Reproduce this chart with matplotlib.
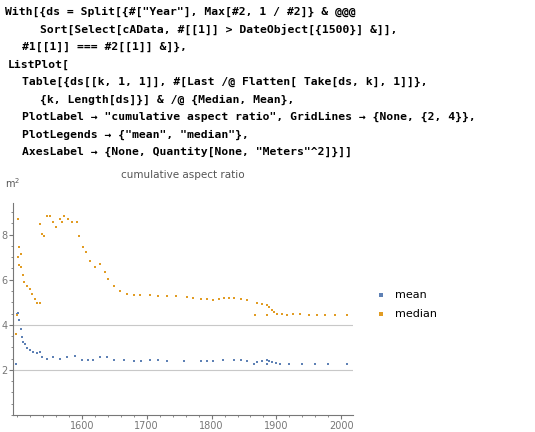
import matplotlib.pyplot as plt
from matplotlib.ticker import MultipleLocator

code_lines = [
    (5, "With[{ds = Split[{#[\"Year\"], Max[#2, 1 / #2]} & @@@"),
    (40, "Sort[Select[cAData, #[[1]] > DateObject[{1500}] &]],"),
    (22, "#1[[1]] === #2[[1]] &]},"),
    (8, "ListPlot["),
    (22, "Table[{ds[[k, 1, 1]], #[Last /@ Flatten[ Take[ds, k], 1]]},"),
    (40, "{k, Length[ds]}] & /@ {Median, Mean},"),
    (22, "PlotLabel \u2192 \"cumulative aspect ratio\", GridLines \u2192 {None, {2, 4}},"),
    (22, "PlotLegends \u2192 {\"mean\", \"median\"},"),
    (22, "AxesLabel \u2192 {None, Quantity[None, \"Meters\"^2]}]]"),
]

median_years = [1499, 1500, 1501, 1502, 1503, 1504, 1506, 1507, 1509, 1511, 1515, 1520, 1524, 1528,
                1531, 1535, 1536, 1538, 1542, 1546, 1551, 1556, 1561, 1566, 1569, 1573, 1579, 1585,
                1592, 1596, 1602, 1607, 1613, 1621, 1628, 1636, 1641, 1649, 1659, 1669, 1680, 1690,
                1705, 1718, 1731, 1745, 1762, 1772, 1783, 1793, 1803, 1811, 1819, 1827, 1834, 1845,
                1855, 1867, 1870, 1878, 1885, 1885, 1889, 1893, 1897, 1901, 1908, 1916, 1926, 1937,
                1950, 1962, 1975, 1990, 2008]
median_vals = [3.58, 4.42, 7.0, 8.69, 6.63, 7.44, 7.14, 6.55, 6.19, 5.89, 5.74, 5.6, 5.38, 5.15,
               4.96, 4.96, 8.47, 8.03, 7.95, 8.84, 8.84, 8.54, 8.32, 8.69, 8.54, 8.84, 8.69, 8.54,
               8.54, 7.95, 7.44, 7.22, 6.85, 6.55, 6.7, 6.33, 6.04, 5.74, 5.52, 5.38, 5.3, 5.3,
               5.3, 5.29, 5.27, 5.26, 5.23, 5.2, 5.15, 5.13, 5.11, 5.16, 5.2, 5.2, 5.18, 5.15,
               5.11, 4.42, 4.96, 4.92, 4.86, 4.42, 4.8, 4.64, 4.55, 4.49, 4.46, 4.45, 4.46, 4.46,
               4.44, 4.43, 4.43, 4.43, 4.43]

mean_years = [1499, 1500, 1502, 1504, 1506, 1508, 1510, 1513, 1515, 1520, 1525, 1531, 1535, 1538,
              1546, 1556, 1567, 1577, 1590, 1600, 1610, 1618, 1628, 1639, 1649, 1665, 1680, 1692,
              1705, 1718, 1731, 1757, 1783, 1793, 1803, 1818, 1834, 1845, 1855, 1866, 1870, 1878,
              1885, 1885, 1889, 1893, 1900, 1906, 1920, 1940, 1960, 1980, 2008]
mean_vals = [2.25, 4.49, 4.52, 4.2, 3.83, 3.46, 3.24, 3.17, 2.95, 2.9, 2.8, 2.75, 2.8, 2.58,
             2.5, 2.55, 2.5, 2.58, 2.6, 2.46, 2.46, 2.46, 2.58, 2.55, 2.43, 2.42, 2.4, 2.41,
             2.43, 2.42, 2.41, 2.4, 2.38, 2.39, 2.4, 2.43, 2.46, 2.42, 2.38, 2.28, 2.35, 2.38,
             2.43, 2.25, 2.4, 2.35, 2.3, 2.28, 2.26, 2.25, 2.25, 2.25, 2.25]

fig = plt.figure(figsize=(5.35, 4.32), dpi=100)

for i, (xpx, line) in enumerate(code_lines):
    fig.text(xpx / 535, 1 - (12 + i * 17.5) / 432, line, family="DejaVu Sans Mono",
             weight="bold", fontsize=8.2, va="center", ha="left")

ax = fig.add_axes([13 / 535, 17 / 432, 340 / 535, 212 / 432])
ax.scatter(mean_years, mean_vals, s=4, color="#5E81B5", marker="s", linewidths=0, label="mean")
ax.scatter(median_years, median_vals, s=4, color="#E19C24", marker="s", linewidths=0, label="median")
ax.set_xlim(1494, 2018)
ax.set_ylim(0, 9.4)
ax.axhline(2, color="#c8c8c8", lw=0.8, zorder=0)
ax.axhline(4, color="#c8c8c8", lw=0.8, zorder=0)
ax.spines["top"].set_visible(False)
ax.spines["right"].set_visible(False)
for s in ("left", "bottom"):
    ax.spines[s].set_color("#777777")
ax.xaxis.set_major_locator(MultipleLocator(100))
ax.xaxis.set_minor_locator(MultipleLocator(20))
ax.yaxis.set_minor_locator(MultipleLocator(0.5))
ax.set_yticks([2, 4, 6, 8])
ax.set_xticks([1600, 1700, 1800, 1900, 2000])
ax.tick_params(labelsize=7, colors="#777777", length=3, pad=1)
ax.tick_params(which="minor", length=1.5, colors="#777777")
ax.set_title("cumulative aspect ratio", fontsize=7.5, color="#555555", x=0.5, pad=18)
fig.text(5 / 535, 1 - 188 / 432, "m$^2$", fontsize=7, color="#555555")

leg = ax.legend(loc="center left", bbox_to_anchor=(1.02, 0.52), frameon=False, fontsize=8,
                markerscale=1.3, handletextpad=0.3, labelspacing=0.8)

fig.savefig("out.png", dpi=100)
